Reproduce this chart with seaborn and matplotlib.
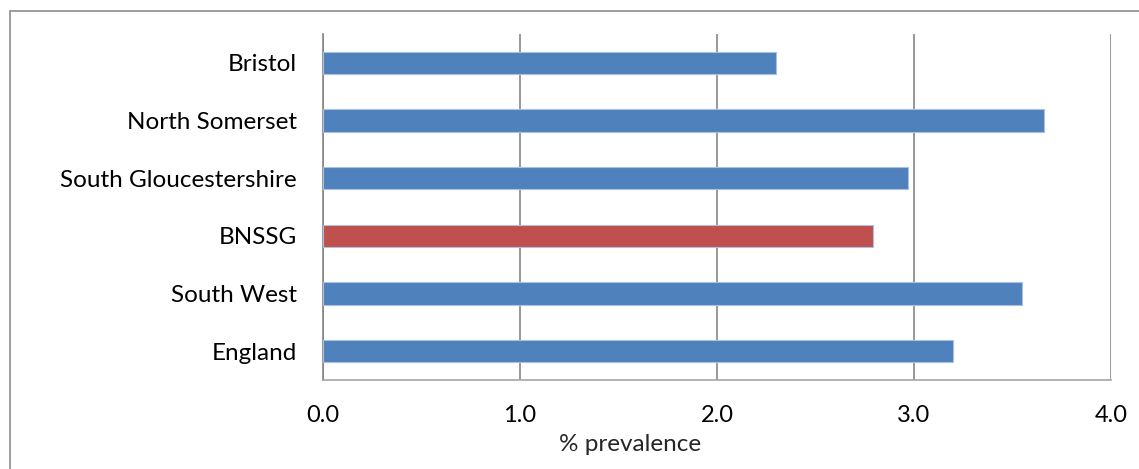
import pandas as pd
import numpy as np
import matplotlib
matplotlib.use('Agg')
import matplotlib.pyplot as plt
import seaborn as sns
from matplotlib.patches import Rectangle

areas = ['Bristol', 'North Somerset', 'South Gloucestershire', 'BNSSG', 'South West', 'England']
prevalence = [2.30, 3.66, 2.97, 2.79, 3.55, 3.20]
bar_colours = ['#4F81BD', '#4F81BD', '#4F81BD', '#C0504D', '#4F81BD', '#4F81BD']
x_ticks = [0.0, 1.0, 2.0, 3.0, 4.0]

sns.set_style('white')
plt.rcParams['font.family'] = ['Lato', 'DejaVu Sans']

df = pd.DataFrame({'area': areas, 'prevalence': prevalence})

fig = plt.figure(figsize=(11.39, 4.69), dpi=100)
ax = fig.add_axes([323 / 1139, 1 - 380 / 469, 788 / 1139, 346 / 469])

sns.barplot(data=df, y='area', x='prevalence', hue='area', order=areas,
            palette=dict(zip(areas, bar_colours)), legend=False, width=0.39,
            saturation=1, orient='h', ax=ax, edgecolor='#a9c0df',
            linewidth=0.8, zorder=3)

ax.set_xlim(0, 4.0)
ax.set_ylim(5.5, -0.5)
ax.set_xticks(x_ticks)
ax.set_xticklabels([f'{v:.1f}' for v in x_ticks])
ax.xaxis.grid(True, color='#868686', linewidth=1.2, zorder=0)
ax.yaxis.grid(False)

# category boundary ticks on the y axis
ax.set_yticks(np.arange(-0.5, 6, 1), minor=True)
ax.tick_params(axis='y', which='major', length=0, pad=19, labelsize=17.5, labelcolor='black')
ax.tick_params(axis='y', which='minor', length=6, width=1.2, color='#868686', direction='out')
ax.tick_params(axis='x', which='major', length=6, width=1.2, color='#868686',
               direction='out', pad=12, labelsize=17, labelcolor='black')

ax.set_ylabel('')
ax.set_xlabel('% prevalence', fontsize=17.5, labelpad=0)
ax.xaxis.set_label_coords(0.39, -0.155)
ax.xaxis.label.set_va('top')

for side in ['top', 'right']:
    ax.spines[side].set_visible(False)
ax.spines['left'].set_color('#868686')
ax.spines['left'].set_linewidth(1.2)
ax.spines['bottom'].set_color('#a6a6a6')
ax.spines['bottom'].set_linewidth(1.2)

# outer chart frame
fig.patches.append(Rectangle((10 / 1139, -0.1), 1.2, 1 - 11 / 469 + 0.1,
                             transform=fig.transFigure, fill=False,
                             edgecolor='#8c8c8c', linewidth=1.2))

fig.savefig('out.png', dpi=100)
